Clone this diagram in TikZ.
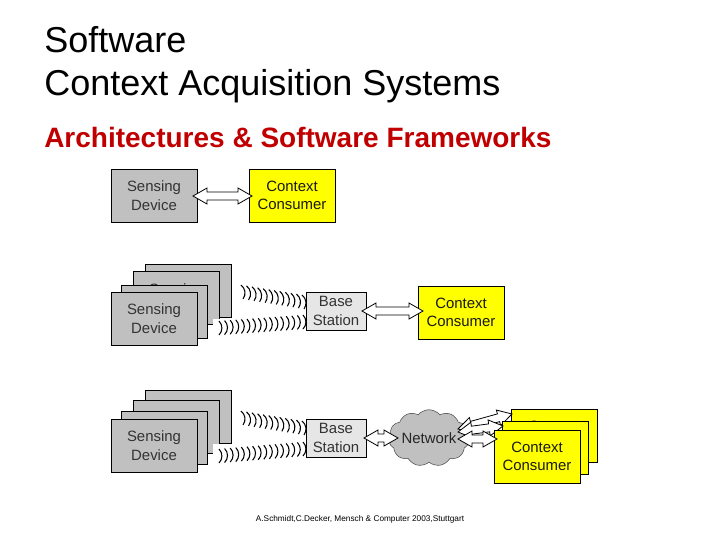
\documentclass[tikz,border=0pt]{standalone}
\usepackage{fontspec}
\setmainfont{Liberation Sans}
\usetikzlibrary{calc,shapes.symbols}
\definecolor{boxgray}{HTML}{C0C0C0}
\definecolor{basegray}{HTML}{E6E6E6}
\definecolor{consumer}{HTML}{FFFF00}
\definecolor{titlered}{HTML}{C00000}
% hollow two-headed arrow between two named points
\newcommand{\blockarrow}[2]{%
  \coordinate (p) at ($(#1)!10.5pt!(#2)$);
  \coordinate (q) at ($(#2)!10.5pt!(#1)$);
  \draw[hollow] (#1) -- ($(p)!6pt!90:(#2)$) -- ($(p)!3pt!90:(#2)$) -- ($(q)!3pt!-90:(#1)$) -- ($(q)!6pt!-90:(#1)$) -- (#2)
    -- ($(q)!6pt!90:(#1)$) -- ($(q)!3pt!90:(#1)$) -- ($(p)!3pt!-90:(#2)$) -- ($(p)!6pt!-90:(#2)$) -- cycle;}
\begin{document}
\begin{tikzpicture}[x=0.75pt,y=-0.75pt]
\tikzset{sensor/.style={rectangle,minimum width=64.5pt,minimum height=39.75pt,inner sep=0pt,draw,fill=boxgray,align=center,font=\fontsize{11.2}{14}\selectfont,text=black!80}}
\tikzset{ctxbox/.style={sensor,fill=consumer,text=black!90}}
\tikzset{basebox/.style={sensor,minimum width=45pt,minimum height=28.5pt,fill=basegray}}
\tikzset{titletxt/.style={anchor=base west,inner sep=0pt,font=\fontsize{27}{30}\selectfont}}
\tikzset{wave/.style={line width=0.8pt}}
\tikzset{hollow/.style={draw,fill=white,line width=0.6pt,line join=miter}}
\useasboundingbox (0,0) rectangle (720,540);

  % title
  \draw (44,52) node[titletxt](t1) {Software};
  \draw (44,95) node[titletxt](t2) {Context Acquisition Systems};
  \draw (44,147) node[titletxt,text=titlered,font=\fontsize{21}{24}\bfseries\selectfont](t3) {Architectures \& Software Frameworks};

  % first row
  \draw (154,195.5) node[sensor](s1) {Sensing\\Device};
  \draw (292,195.5) node[ctxbox](c1) {Context\\Consumer};
  \coordinate (a1) at (193,196);
  \coordinate (b1) at (252,196);
  \blockarrow{a1}{b1}

  % second row
  \draw (188.5,291) node[sensor](s2a) {Sensing\\Device};
  \draw (176,298) node[sensor](s2b) {Sensing\\Device};
  \draw (164.5,311.5) node[sensor](s2c) {Sensing\\Device};
  \draw (154,318.5) node[sensor](s2d) {Sensing\\Device};
  \draw (336,311) node[basebox](b2) {Base\\Station};
  \draw (461,312.5) node[ctxbox](c2) {Context\\Consumer};
  \coordinate (a2) at (362,311);
  \coordinate (d2) at (423,311);
  \blockarrow{a2}{d2}
  \fill[white] (213,319) rectangle (226,333);
  \coordinate (w2a) at (242,292);
  \coordinate (w2b) at (303,302);
  \coordinate (w2c) at (219,328);
  \coordinate (w2d) at (303,322);
  \foreach \i in {0,...,11}
    \draw[wave] ($(w2a)!\i/11!(w2b)+(-1,-7)$) to[bend left=45] ++(2,14);
  \foreach \i in {0,...,15}
    \draw[wave] ($(w2c)!\i/15!(w2d)+(0,-7)$) to[bend left=45] ++(0,14);

  % third row
  \draw (188.5,416.5) node[sensor](s3a) {Sensing\\Device};
  \draw (176,426.5) node[sensor](s3b) {Sensing\\Device};
  \draw (164.5,438) node[sensor](s3c) {Sensing\\Device};
  \draw (154,445.5) node[sensor](s3d) {Sensing\\Device};
  \draw (336,438) node[basebox](b3) {Base\\Station};
  \draw (429,438) node[cloud,cloud puffs=11,cloud puff arc=100,aspect=1.6,minimum width=54pt,minimum height=34pt,inner sep=0pt,draw=black!70,fill=boxgray,text=black!85,font=\fontsize{11.2}{14}\selectfont](n3) {Network};
  \coordinate (a3) at (364,438);
  \coordinate (d3) at (398,438);
  \blockarrow{a3}{d3}
  \fill[white] (213,444) rectangle (226,459);
  \coordinate (w3a) at (242,418);
  \coordinate (w3b) at (303,428);
  \coordinate (w3c) at (219,456);
  \coordinate (w3d) at (303,449);
  \foreach \i in {0,...,11}
    \draw[wave] ($(w3a)!\i/11!(w3b)+(-1,-7)$) to[bend left=45] ++(2,14);
  \foreach \i in {0,...,15}
    \draw[wave] ($(w3c)!\i/15!(w3d)+(0,-7)$) to[bend left=45] ++(0,14);

  \draw (554,435.5) node[ctxbox](c3a) {Context\\Consumer};
  \coordinate (e1) at (458,429);
  \coordinate (f1) at (512,414);
  \blockarrow{e1}{f1}
  \draw (545.5,448) node[ctxbox](c3b) {Context\\Consumer};
  \coordinate (e2) at (458,432);
  \coordinate (f2) at (503,426);
  \blockarrow{e2}{f2}
  \draw (537,456.5) node[ctxbox](c3c) {Context\\Consumer};
  \coordinate (e3) at (458,439);
  \coordinate (f3) at (497,439);
  \blockarrow{e3}{f3}

  % footer
  \draw (360,519) node[inner sep=0pt,font=\fontsize{6.2}{7}\selectfont](foot) {A.Schmidt,C.Decker, Mensch \& Computer 2003,Stuttgart};
\end{tikzpicture}
\end{document}
